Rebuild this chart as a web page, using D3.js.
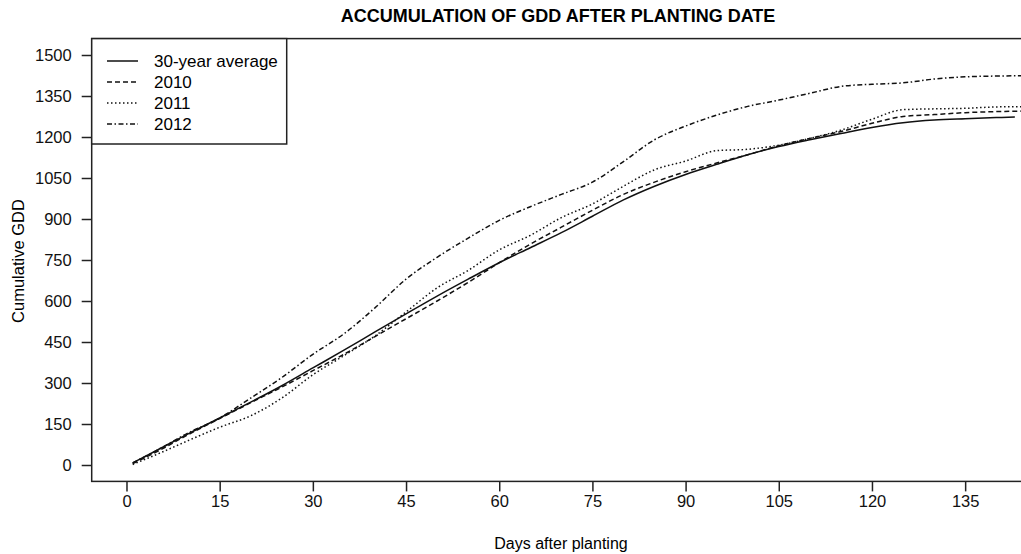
<!DOCTYPE html>
<html>
<head>
<meta charset="utf-8">
<style type="text/css">
	body{ margin:0; background:#fff; }
	svg{ display:block; font-family:"Liberation Sans", Arial, sans-serif; }
</style>
<script src="https://cdn.jsdelivr.net/npm/d3@7/dist/d3.min.js"></script>
</head>
<body>
<svg id="svg" width="1021" height="554"></svg>
<script type="text/javascript">

	// days after planting and cumulative GDD
	var days = [1, 5, 10, 15, 20, 25, 30, 35, 40, 45, 50, 55, 60, 65, 70, 75, 80, 85, 90, 95, 100, 105, 110, 115, 120, 125, 130, 135, 140, 145];
	var avg30 = [8, 55, 115, 172, 230, 290, 355, 420, 487, 553, 618, 680, 740, 795, 850, 910, 970, 1020, 1063, 1100, 1135, 1165, 1190, 1213, 1235, 1252, 1262, 1267, 1271, 1273];
	var y2010 = [5, 50, 112, 170, 228, 285, 345, 405, 470, 535, 600, 668, 740, 808, 870, 932, 990, 1035, 1073, 1105, 1135, 1168, 1195, 1220, 1250, 1275, 1282, 1289, 1293, 1295];
	var y2011 = [2, 40, 90, 138, 180, 245, 330, 400, 472, 560, 648, 712, 787, 840, 905, 955, 1020, 1080, 1112, 1150, 1155, 1170, 1195, 1225, 1265, 1300, 1303, 1305, 1310, 1311];
	var y2012 = [8, 55, 118, 172, 245, 320, 405, 480, 575, 680, 760, 830, 895, 945, 990, 1035, 1110, 1190, 1240, 1280, 1312, 1335, 1360, 1385, 1393, 1398, 1412, 1420, 1423, 1424];
	var avgLastDay = 143;

	var seriesNames = ["30-year average", "2010", "2011", "2012"];
	var seriesValues = [avg30, y2010, y2011, y2012];
	var dashes = [null, "5,3", "1.5,2.5", "5,2.5,1.5,2.5"];

	var xTicks = [0, 15, 30, 45, 60, 75, 90, 105, 120, 135];
	var yTicks = [0, 150, 300, 450, 600, 750, 900, 1050, 1200, 1350, 1500];

	var svg = d3.select("#svg");
	var x = d3.scaleLinear().domain([-5.6, 145.6]).range([91.7, 1031]);
	var y = d3.scaleLinear().domain([-60, 1560]).range([481.4, 38.6]);

	//title
	svg.append("text").attr("x", 558).attr("y", 22).attr("text-anchor", "middle")
		.style("font-weight", "bold").style("font-size", "18px")
		.text("ACCUMULATION OF GDD AFTER PLANTING DATE");

	//curves
	var line = d3.line()
		.x(function(d){ return x(d[0]); })
		.y(function(d){ return y(d[1]); })
		.curve(d3.curveMonotoneX);

	var g_lines = svg.append("g").attr("class", "g_lines");
	for(var i = 0; i<seriesValues.length; i++){
		var pts = days.map(function(d, j){ return [d, seriesValues[i][j]]; });
		if(i === 0){
			pts = pts.filter(function(p){ return p[0] <= avgLastDay; });
			pts.push([avgLastDay, avg30[avg30.length-1]]);
		}
		g_lines.append("path").datum(pts)
			.attr("d", line)
			.style("fill", "none")
			.style("stroke", "#111")
			.style("stroke-width", 1.5)
			.style("stroke-dasharray", dashes[i]);
	}

	//box
	svg.append("rect").attr("x", x.range()[0]).attr("y", y.range()[1])
		.attr("width", x.range()[1]-x.range()[0]).attr("height", y.range()[0]-y.range()[1])
		.style("fill", "none").style("stroke", "#222").style("stroke-width", 1.5);

	//axes
	var xAxis = d3.axisBottom(x).tickValues(xTicks).tickSize(10).tickPadding(4).tickSizeOuter(0);
	var gx = svg.append("g").attr("transform", "translate(0," + y.range()[0] + ")").call(xAxis);
	gx.select(".domain").remove();

	var yAxis = d3.axisLeft(y).tickValues(yTicks).tickFormat(d3.format("d")).tickSize(10).tickPadding(10).tickSizeOuter(0);
	var gy = svg.append("g").attr("transform", "translate(" + x.range()[0] + ",0)").call(yAxis);
	gy.select(".domain").remove();

	svg.selectAll(".tick line").style("stroke", "#222").style("stroke-width", 1.5);
	svg.selectAll(".tick text").style("font-size", "16.5px").style("fill", "#111")
		.style("font-family", "'Liberation Sans', Arial, sans-serif");

	//axis titles
	svg.append("text").attr("x", 561).attr("y", 549).attr("text-anchor", "middle")
		.style("font-size", "16px").text("Days after planting");
	svg.append("text").attr("transform", "translate(24,261) rotate(-90)").attr("text-anchor", "middle")
		.style("font-size", "16.5px").text("Cumulative GDD");

	//legend
	var leg = svg.append("g").attr("class", "legend");
	leg.append("rect").attr("x", 91.7).attr("y", 38.6).attr("width", 195).attr("height", 105.4)
		.style("fill", "#fff").style("stroke", "#222").style("stroke-width", 1.5);
	for(var k = 0; k<seriesNames.length; k++){
		var ly = 61 + k*21;
		leg.append("line").attr("x1", 107).attr("x2", 138).attr("y1", ly).attr("y2", ly)
			.style("stroke", "#111").style("stroke-width", 1.5).style("stroke-dasharray", dashes[k]);
		leg.append("text").attr("x", 154).attr("y", ly + 6).style("font-size", "17px").text(seriesNames[k]);
	}

</script>
</body>
</html>
